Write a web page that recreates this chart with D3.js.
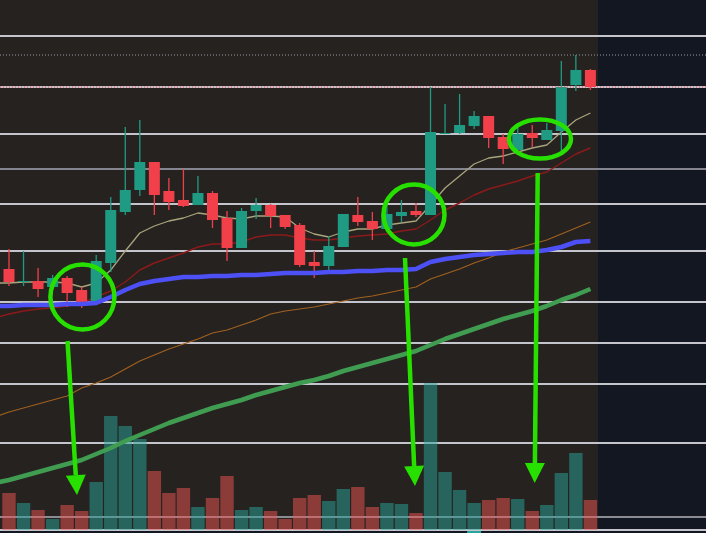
<!DOCTYPE html>
<html>
<head>
<meta charset="utf-8">
<script src="https://cdn.jsdelivr.net/npm/d3@7"></script>
<style>
html, body { margin: 0; padding: 0; background: #131722; overflow: hidden; }
svg { display: block; }
</style>
</head>
<body>
<svg id="chart" width="706" height="533"></svg>
<script>
// no price labels in the picture, so every level is read as height above the bottom edge
var H = 533;
function up(v) { return H - v; }

// candles: top of body, bottom of body, wick high, wick low, direction
var bodyTop = [269,281,281,278,278,290,261,210,190,162,162,191,200,193,193,218,211,205,205,215,225,262,246,214,215,221,214,212,211,132,133,125,116,116,137,134,133,130,87,70,70];
var bodyBottom = [282,282,289,287,293,302,301,263,212,190,195,202,206,205,220,248,248,211,216,227,265,266,266,247,222,229,229,216,215,215,134,133,126,138,149,150,138,140,131,85,87];
var wickHigh = [249,251,268,275,276,287,255,197,127,120,162,178,169,176,191,211,208,198,204,215,223,251,236,214,197,212,203,200,203,87,104,94,111,116,134,126,125,123,61,55,69];
var wickLow = [286,286,297,287,307,308,301,272,215,196,215,210,207,205,228,261,248,219,228,229,267,278,271,247,226,240,229,222,217,215,134,134,129,148,164,150,147,140,152,91,90];
var isUp = [0,1,0,1,0,0,1,1,1,1,0,0,0,1,0,0,1,1,0,0,0,0,1,1,0,0,1,1,0,1,1,1,1,0,0,1,0,1,1,1,0];

// volume bar tops, same direction flags except where the picture differs
var volumeTop = [493,503,510,519,505,511,482,416,426,439,471,493,488,507,498,476,510,507,511,519,498,495,501,489,487,507,503,504,513,383,472,490,503,500,498,499,511,505,473,453,500];
var volumeUp = [0,1,0,1,0,0,1,1,1,1,0,0,0,1,0,0,1,1,0,0,0,0,1,1,0,0,1,1,0,1,1,1,1,0,0,1,0,1,1,1,0];

// moving averages, index -1 to 40
var maBeige = [283,283,282,282,282,283,287,283,270,251,233,226,221,218,213,215,218,219,216,216,217,228,234,237,232,229,229,225,223,221,205,188,176,164,158,156,152,148,145,132,120,113];
var maRed = [318,314,311,309,308,306,303,297,291,282,270,263,258,253,247,244,244,242,237,235,235,238,240,240,238,236,235,234,231,229,220,210,203,195,189,185,181,176,172,163,154,148];
var maOrange = [417,412,408,404,400,396,388,383,377,369,361,355,349,344,339,333,330,325,320,314,311,309,307,304,301,298,296,293,290,287,279,274,269,263,258,252,248,244,240,234,228,222];
var maBlue = [306,306,305,305,305,304,304,303,297,290,284,281,279,277,277,276,276,275,275,274,273,273,273,272,272,271,271,270,270,269,262,259,257,255,254,253,252,252,250,247,242,241];
var maGreen = [483,480,476,472,468,464,460,454,448,441,435,429,423,418,413,408,404,400,395,391,387,383,380,376,371,367,363,359,355,351,345,339,334,329,324,319,315,311,306,300,295,289];

var gridLevels = [36,87,134,169,204,251,302,343,384,443,517,530];
var dottedLevels = [55];
var priceLevel = 87;

// hand drawn marks on top
var circleX = [82.4,414,540];
var circleY = [297,214.5,139];
var circleRx = [32,30.5,31];
var circleRy = [32.5,30,19.5];
var arrowStartX = [67.5,405,537.7];
var arrowStartY = [341,258,173];
var arrowTipX = [77,415,534.7];
var arrowTipY = [495,486,483];

var svg = d3.select("#chart");

var x = d3.scaleLinear().domain([0, 40]).range([9, 590.4]);
var y = d3.scaleLinear().domain([0, H]).range([H, 0]);
var vol = d3.scaleLinear().domain([0, H]).range([H, 0]);

// BACKGROUND
svg.append("rect").attr("width", 706).attr("height", 533).attr("fill", "#131722");
svg.append("rect").attr("width", 598).attr("height", 530).attr("fill", "#262220");

// GRID
svg.selectAll(".grid")
    .data(gridLevels)
    .enter()
    .append("line")
    .attr("class", "grid")
    .attr("x1", 0)
    .attr("x2", 706)
    .attr("y1", function (d) { return y(up(d)); })
    .attr("y2", function (d) { return y(up(d)); })
    .attr("stroke", function (d) { return d === 169 ? "#85858f" : (d === 517 ? "#8b8b93" : "#c4c4cc"); })
    .attr("stroke-width", 2);

svg.selectAll(".dotted")
    .data(dottedLevels)
    .enter()
    .append("line")
    .attr("x1", 0)
    .attr("x2", 706)
    .attr("y1", function (d) { return y(up(d)); })
    .attr("y2", function (d) { return y(up(d)); })
    .attr("stroke", "#9a9aa2")
    .attr("stroke-width", 1)
    .attr("stroke-dasharray", "1,2");

// VOLUME
var bandW = 13.4;
svg.selectAll(".vol")
    .data(volumeTop)
    .enter()
    .append("rect")
    .attr("class", "vol")
    .attr("x", function (d, i) { return x(i) - bandW / 2; })
    .attr("y", function (d) { return vol(up(d)); })
    .attr("width", bandW)
    .attr("height", function (d) { return 530 - vol(up(d)); })
    .attr("fill", function (d, i) { return volumeUp[i] ? "#26a69a" : "#ef5350"; })
    .attr("fill-opacity", 0.5);

// the sliver of the next pane under the bottom border
svg.append("rect")
    .attr("x", x(32) - 7)
    .attr("y", 531)
    .attr("width", 14)
    .attr("height", 2)
    .attr("fill", "#26a69a");

// AVERAGES
var line = d3.line()
    .x(function (d, i) { return x(i - 1); })
    .y(function (d) { return y(up(d)); });

function drawLine(values, color, width) {
    svg.append("path")
        .attr("d", line(values))
        .attr("fill", "none")
        .attr("stroke", color)
        .attr("stroke-width", width)
        .attr("stroke-linejoin", "round");
}

drawLine(maGreen, "#3f9c50", 4.5);
drawLine(maOrange, "#a0601f", 1.2);
drawLine(maRed, "#8c1a1a", 1.4);
drawLine(maBeige, "#a8a47c", 1.3);

// CANDLES
var candleW = 11;
var candles = svg.selectAll(".candle")
    .data(isUp)
    .enter()
    .append("g")
    .attr("class", "candle");

candles.append("line")
    .attr("x1", function (d, i) { return x(i); })
    .attr("x2", function (d, i) { return x(i); })
    .attr("y1", function (d, i) { return y(up(wickHigh[i])); })
    .attr("y2", function (d, i) { return y(up(wickLow[i])); })
    .attr("stroke", function (d) { return d ? "#1f9b83" : "#f2404b"; })
    .attr("stroke-width", 1.3);

candles.append("rect")
    .attr("x", function (d, i) { return x(i) - candleW / 2; })
    .attr("y", function (d, i) { return y(up(bodyTop[i])); })
    .attr("width", candleW)
    .attr("height", function (d, i) { return y(up(bodyBottom[i])) - y(up(bodyTop[i])); })
    .attr("fill", function (d) { return d ? "#1f9b83" : "#f2404b"; });

drawLine(maBlue, "#4d50f5", 4.5);

// last price line over the grid
svg.append("line")
    .attr("x1", 0)
    .attr("x2", 706)
    .attr("y1", y(up(priceLevel)))
    .attr("y2", y(up(priceLevel)))
    .attr("stroke", "#f2404b")
    .attr("stroke-width", 1)
    .attr("stroke-dasharray", "1,2");

// ANNOTATIONS
var neon = "#27e000";
svg.selectAll(".ring")
    .data(circleX)
    .enter()
    .append("ellipse")
    .attr("cx", function (d) { return d; })
    .attr("cy", function (d, i) { return circleY[i]; })
    .attr("rx", function (d, i) { return circleRx[i]; })
    .attr("ry", function (d, i) { return circleRy[i]; })
    .attr("fill", "none")
    .attr("stroke", neon)
    .attr("stroke-width", 4.5);

arrowTipX.forEach(function (tipX, i) {
    var sx = arrowStartX[i], sy = arrowStartY[i], ty = arrowTipY[i];
    var a = Math.atan2(ty - sy, tipX - sx);
    var headLen = 20, headHalf = 10;
    var bx = tipX - headLen * Math.cos(a), by = ty - headLen * Math.sin(a);
    svg.append("line")
        .attr("x1", sx).attr("y1", sy)
        .attr("x2", bx).attr("y2", by)
        .attr("stroke", neon)
        .attr("stroke-width", 4.5);
    svg.append("path")
        .attr("d", d3.line()([
            [tipX, ty],
            [bx - headHalf * Math.sin(a), by + headHalf * Math.cos(a)],
            [bx + headHalf * Math.sin(a), by - headHalf * Math.cos(a)]
        ]) + "Z")
        .attr("fill", neon);
});
</script>
</body>
</html>
